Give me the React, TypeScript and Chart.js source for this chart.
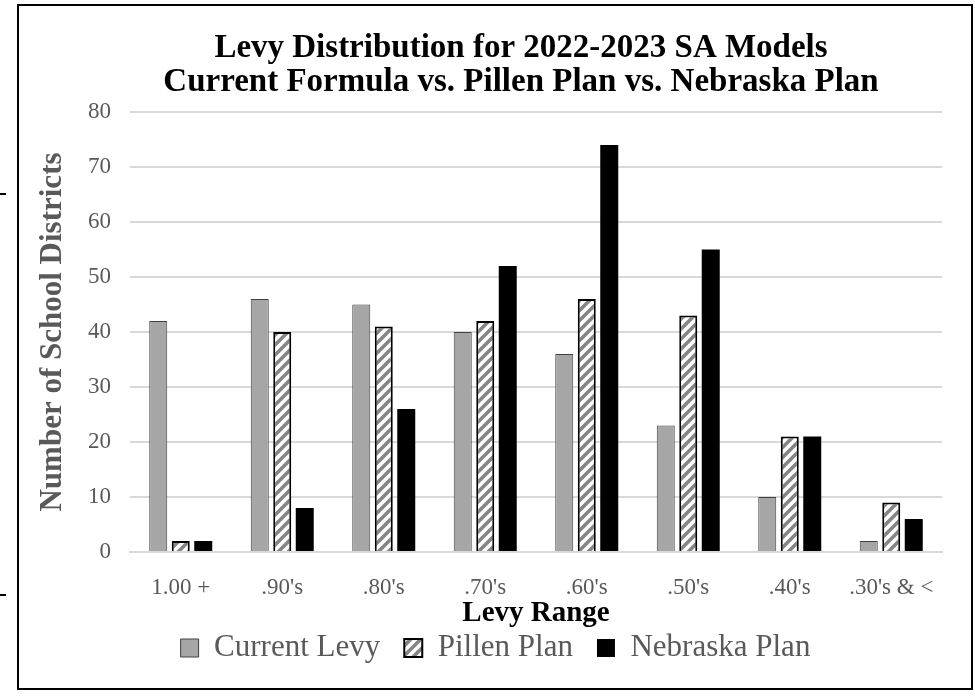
import React, { useEffect, useRef } from "react";
import { Chart, registerables } from "chart.js";

Chart.register(...registerables);

// ---- data ----
const categories = ["1.00 +", ".90's", ".80's", ".70's", ".60's", ".50's", ".40's", ".30's & <"];
const currentLevy = [42, 46, 45, 40, 36, 23, 10, 2];
const pillenPlan = [2, 40, 41, 42, 46, 43, 21, 9];
const nebraskaPlan = [2, 8, 26, 52, 74, 55, 21, 6];
const seriesNames = ["Current Levy", "Pillen Plan", "Nebraska Plan"];
const titleLines = [
  "Levy Distribution for 2022-2023 SA Models",
  "Current Formula vs. Pillen Plan vs. Nebraska Plan",
];
const yAxisTitle = "Number of School Districts";
const xAxisTitle = "Levy Range";
const yMin = 0;
const yMax = 80;
const yStep = 10;

const SERIF = "'Liberation Serif', 'Times New Roman', serif";

function makeStripePattern(): CanvasPattern | string {
  const c = document.createElement("canvas");
  c.width = 10;
  c.height = 10;
  const g = c.getContext("2d");
  if (!g) return "#ffffff";
  g.fillStyle = "#ffffff";
  g.fillRect(0, 0, 10, 10);
  g.strokeStyle = "#858585";
  g.lineWidth = 3.6;
  g.lineCap = "square";
  const segs = [
    [-5, 5, 5, -5],
    [0, 10, 10, 0],
    [5, 15, 15, 5],
  ];
  for (const [x1, y1, x2, y2] of segs) {
    g.beginPath();
    g.moveTo(x1, y1);
    g.lineTo(x2, y2);
    g.stroke();
  }
  const p = g.createPattern(c, "repeat");
  return p || "#ffffff";
}

const framePlugin = {
  id: "frameDecor",
  beforeDraw(chart: any) {
    const ctx = chart.ctx as CanvasRenderingContext2D;
    ctx.save();
    ctx.fillStyle = "#ffffff";
    ctx.fillRect(0, 0, chart.width, chart.height);
    ctx.strokeStyle = "#000000";
    ctx.lineWidth = 2;
    ctx.strokeRect(18, 5, 954, 684);
    ctx.fillStyle = "#000000";
    ctx.fillRect(0, 193, 6, 2);
    ctx.fillRect(0, 594, 6, 2);
    ctx.restore();
  },
};

const titleShiftPlugin = {
  id: "titleShift",
  afterLayout(chart: any) {
    const t = chart.titleBlock;
    if (t) {
      t.left += 25.5;
      t.right += 25.5;
    }
  },
};

export default function App() {
  const ref = useRef<HTMLCanvasElement | null>(null);

  useEffect(() => {
    if (!ref.current) return;
    const stripes = makeStripePattern();
    const chart = new Chart(ref.current, {
      type: "bar",
      data: {
        labels: categories,
        datasets: [
          {
            label: seriesNames[0],
            data: currentLevy,
            backgroundColor: "#a6a6a6",
            borderColor: "#404040",
            borderWidth: 1,
            categoryPercentage: 0.665,
            barPercentage: 0.8,
          },
          {
            label: seriesNames[1],
            data: pillenPlan,
            backgroundColor: stripes as any,
            borderColor: "#000000",
            borderWidth: 2,
            categoryPercentage: 0.665,
            barPercentage: 0.8,
          },
          {
            label: seriesNames[2],
            data: nebraskaPlan,
            backgroundColor: "#000000",
            borderColor: "#000000",
            borderWidth: 0,
            categoryPercentage: 0.665,
            barPercentage: 0.8,
          },
        ],
      },
      options: {
        responsive: false,
        animation: false,
        layout: { padding: { left: 49, right: 33, top: 6, bottom: 22.5 } },
        plugins: {
          title: {
            display: true,
            text: titleLines,
            color: "#000000",
            font: { family: SERIF, size: 33, weight: "bold", lineHeight: 34 / 33 },
            padding: { top: 25, bottom: 13 },
          },
          legend: {
            display: true,
            position: "bottom",
            labels: {
              color: "#595959",
              font: { family: SERIF, size: 31 },
              boxWidth: 18,
              boxHeight: 18,
              padding: 24,
            },
          },
          tooltip: { enabled: false },
        },
        scales: {
          x: {
            grid: { display: false },
            border: { display: true, color: "#d9d9d9", width: 2 },
            ticks: {
              color: "#595959",
              font: { family: SERIF, size: 23 },
              padding: 14,
              maxRotation: 0,
              autoSkip: false,
            },
            title: {
              display: true,
              text: xAxisTitle,
              color: "#000000",
              font: { family: SERIF, size: 29, weight: "bold", lineHeight: 1 },
              padding: { top: 0, bottom: -20 },
            },
            afterFit(scale: any) {
              scale.height = 56.5;
            },
          },
          y: {
            min: yMin,
            max: yMax,
            grid: { color: "#d9d9d9", lineWidth: 2, drawTicks: false },
            border: { display: false },
            ticks: {
              stepSize: yStep,
              color: "#595959",
              font: { family: SERIF, size: 23 },
              padding: 19,
            },
            title: {
              display: true,
              text: yAxisTitle,
              color: "#595959",
              font: { family: SERIF, size: 31, weight: "bold", lineHeight: 1 },
              padding: { top: -12, bottom: 0 },
            },
            afterFit(scale: any) {
              scale.width = 81;
            },
          },
        },
      } as any,
      plugins: [framePlugin, titleShiftPlugin],
    });
    return () => chart.destroy();
  }, []);

  return (
    <div style={{ position: "absolute", left: 0, top: 0, width: 975, height: 696 }}>
      <canvas ref={ref} width={975} height={696} style={{ display: "block" }} />
    </div>
  );
}
